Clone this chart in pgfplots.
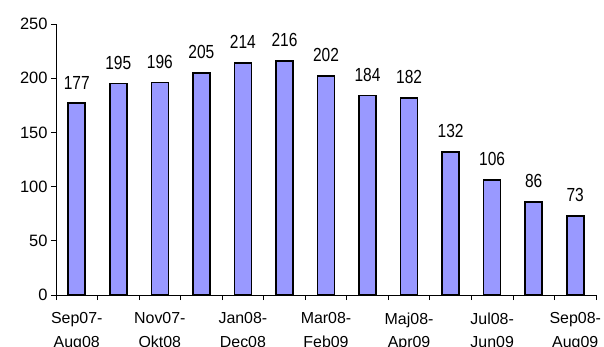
\documentclass[border=0pt]{standalone}
\usepackage{fontspec}
\setmainfont{Liberation Sans}
\newfontfamily\narrowfont[FakeStretch=0.82]{Liberation Sans}
\usepackage{pgfplots}
\pgfplotsset{compat=1.18}
\definecolor{barfill}{RGB}{153,153,255}
\begin{document}
\begin{tikzpicture}
\path[use as bounding box] (-56bp,-52bp) rectangle (548bp,295bp);
\begin{axis}[
  at={(0,0)}, anchor=south west,
  scale only axis, width=540bp, height=271bp,
  xmin=-0.5, xmax=12.5, ymin=0, ymax=250,
  axis x line*=bottom, axis y line*=left,
  axis line style={black, line width=0.8pt},
  ytick={0,50,...,250},
  xtick={0,2,...,12},
  xticklabels={{Sep07-\\Aug08},{Nov07-\\Okt08},{Jan08-\\Dec08},{Mar08-\\Feb09},{Maj08-\\Apr09},{Jul08-\\Jun09},{Sep08-\\Aug09}},
  x tick label style={align=center, font=\fontsize{16}{24}\selectfont, yshift=-9bp},
  y tick label style={font=\fontsize{16.5}{18}\selectfont},
  /pgf/number format/assume math mode=true,
  major x tick style={draw=none},
  minor xtick={-0.5,0.5,...,12.5},
  minor tick length=5bp,
  major tick length=5bp,
  tick align=outside,
  tick style={black, line width=0.8pt},
  ybar, bar width=17bp,
  nodes near coords,
  every node near coord/.append style={font=\narrowfont\fontsize{19}{20}\selectfont, black, yshift=10bp},
]
\addplot[fill=barfill, draw=black, line width=1.6pt] coordinates {
(0,177) (1,195) (2,196) (3,205) (4,214) (5,216) (6,202) (7,184) (8,182) (9,132) (10,106) (11,86) (12,73)
};
\end{axis}
\end{tikzpicture}
\end{document}
